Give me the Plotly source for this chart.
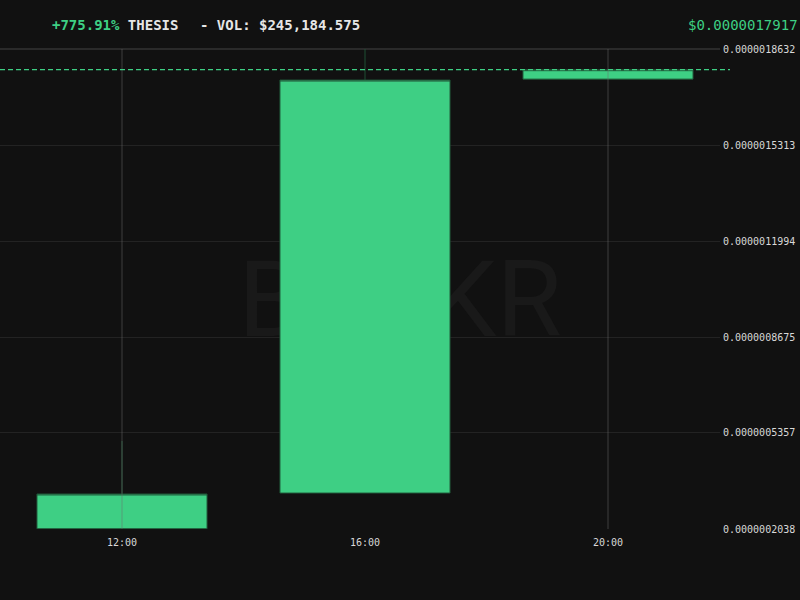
import plotly.graph_objects as go
from datetime import datetime, timedelta

# ---- data ----
times = ["2024-05-01 12:00", "2024-05-01 16:00", "2024-05-01 20:00"]
opens = [2.0455e-7, 3.28e-7, 1.759e-6]
highs = [5.08e-7, 1.8632e-6, 1.7917e-6]
lows = [2.038e-7, 3.28e-7, 1.759e-6]
closes = [3.25e-7, 1.756e-6, 1.7917e-6]

ytick_vals = [2.038e-7, 5.357e-7, 8.675e-7, 1.1994e-6, 1.5313e-6, 1.8632e-6]
ytick_text = ["0.0000002038", "0.0000005357", "0.0000008675",
              "0.0000011994", "0.0000015313", "0.0000018632"]
xtick_text = ["12:00", "16:00", "20:00"]
vgrid_times = ["2024-05-01 12:00", "2024-05-01 20:00"]

last_price = 1.7917e-6
last_price_text = "$0.0000017917"
change_text = "+775.91%"
symbol = "THESIS"
volume_text = "- VOL: $245,184.575"
watermark = "BULKR"

# ---- style ----
BG = "#111111"
GREEN = "#3ecf84"
EDGE = "#1f5035"
MONO = "DejaVu Sans Mono"

fmt = "%Y-%m-%d %H:%M"
t0 = datetime.strptime(times[0], fmt)
t2 = datetime.strptime(times[-1], fmt)
x_start = t0 - timedelta(hours=4 * 122 / 243)
x_end = t2 + timedelta(hours=4 * 112 / 243)

fig = go.Figure()
fig.add_trace(go.Candlestick(
    x=times, open=opens, high=highs, low=lows, close=closes,
    increasing=dict(fillcolor=GREEN, line=dict(color=EDGE, width=1)),
    decreasing=dict(fillcolor="#e04b4b", line=dict(color="#5a2222", width=1)),
    whiskerwidth=0, showlegend=False, hoverinfo="skip",
))

shapes = []
# watermark (below traces)
shapes.append(dict(
    type="rect", xref="paper", yref="paper",
    x0=300 / 720, x1=500 / 720, y0=1 - (322 - 49) / 480, y1=1 - (262 - 49) / 480,
    line=dict(width=0), fillcolor="rgba(0,0,0,0)", layer="below",
    label=dict(text=watermark, textposition="middle center",
               font=dict(family="Roboto", size=106, color="#191919")),
))
# top border line
shapes.append(dict(type="line", xref="paper", yref="paper", x0=0, x1=1, y0=1, y1=1,
                   line=dict(color="#2a2a2a", width=2), layer="below"))
# vertical grid lines drawn above candles
for t in vgrid_times:
    shapes.append(dict(type="line", xref="x", yref="paper", x0=t, x1=t, y0=0, y1=1,
                       line=dict(color="rgba(110,110,110,0.5)", width=1), layer="above"))
# last price dashed line
shapes.append(dict(type="line", xref="paper", yref="y", x0=0, x1=730 / 720,
                   y0=last_price, y1=last_price,
                   line=dict(color=GREEN, width=1.3, dash="5px,3px"), layer="above"))

hdr_y = 1 + 24 / 480
annotations = [
    dict(xref="paper", yref="paper", x=50 / 720, y=hdr_y,
         xanchor="left", yanchor="middle", showarrow=False,
         text=f"<b><span style='color:{GREEN}'>{change_text}</span> {symbol}</b>",
         font=dict(family=MONO, size=14, color="#e6e6e6")),
    dict(xref="paper", yref="paper", x=198 / 720, y=hdr_y,
         xanchor="left", yanchor="middle", showarrow=False,
         text=f"<b>{volume_text}</b>",
         font=dict(family=MONO, size=14, color="#e6e6e6")),
    dict(xref="paper", yref="paper", x=800 / 720, y=hdr_y,
         xanchor="right", yanchor="middle", showarrow=False,
         text=last_price_text,
         font=dict(family=MONO, size=14, color=GREEN)),
]

fig.update_layout(
    width=800, height=600,
    paper_bgcolor=BG, plot_bgcolor=BG,
    margin=dict(l=0, r=80, t=49, b=71),
    boxgap=0.3, boxgroupgap=0,
    shapes=shapes, annotations=annotations,
    showlegend=False,
    xaxis=dict(type="date", range=[x_start, x_end], rangeslider=dict(visible=False),
               tickvals=times, ticktext=xtick_text, showgrid=False, zeroline=False,
               showline=False, ticks="", ticklabelstandoff=6,
               tickfont=dict(family=MONO, size=10, color="#d8d8d8"),
               fixedrange=True),
    yaxis=dict(side="right", range=[ytick_vals[0], ytick_vals[-1]],
               tickvals=ytick_vals, ticktext=ytick_text, showgrid=True,
               gridcolor="#232323", gridwidth=1, zeroline=False, showline=False,
               ticks="", ticklabelstandoff=2,
               tickfont=dict(family=MONO, size=10, color="#d8d8d8"),
               fixedrange=True),
)

fig.write_html("out.html", config={"displayModeBar": False},
               post_script="document.body.style.margin='0';document.body.style.padding='0';")
